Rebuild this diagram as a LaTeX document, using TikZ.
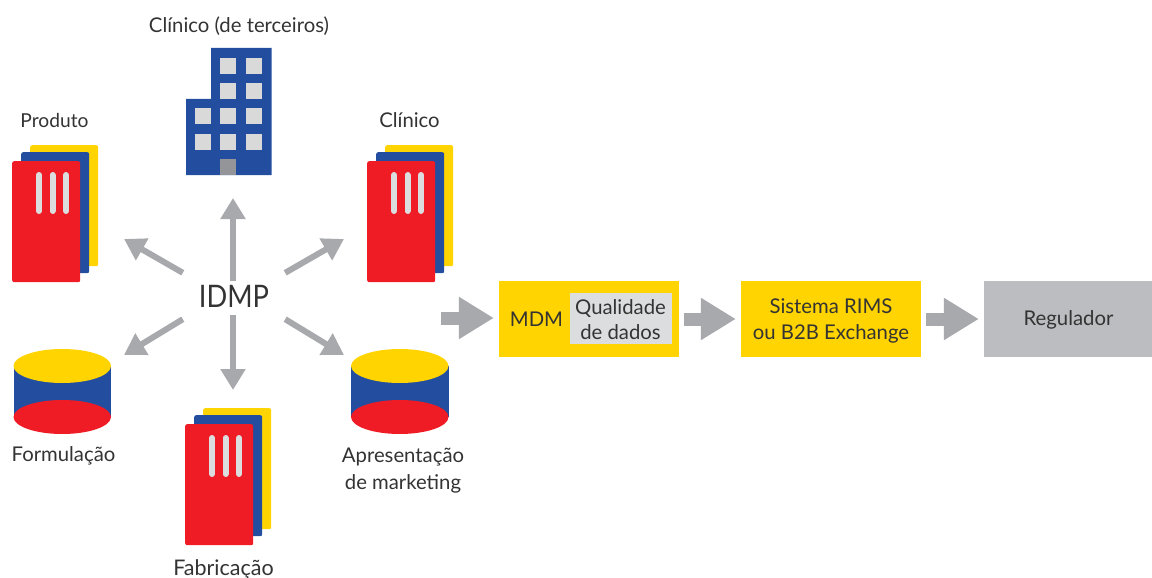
\documentclass[tikz,border=0pt]{standalone}
\usepackage{fontspec}
\setmainfont{Lato}
\newfontfamily\idmpfont[FakeStretch=0.88]{Lato}
\usetikzlibrary{arrows.meta}
\definecolor{cyel}{HTML}{FFD400}
\definecolor{cblu}{HTML}{234EA0}
\definecolor{cred}{HTML}{EF1C25}
\definecolor{cgry}{HTML}{A7A9AC}
\definecolor{cbox}{HTML}{BCBDC0}
\definecolor{cwin}{HTML}{D9D9D9}
\definecolor{cdoor}{HTML}{939598}
\definecolor{cinn}{HTML}{DCDDDE}
\definecolor{ctxt}{HTML}{333333}
\tikzset{
  lbl/.style={inner sep=0pt,text=ctxt,font=\fontsize{20.3}{27}\selectfont,align=center},
  sheet/.style={inner sep=0pt,minimum width=68pt,minimum height=121pt,rounded corners=2pt},
  stripe/.style={line width=6pt,line cap=round,draw=cinn},
  win/.style={fill=cwin,inner sep=0pt,minimum size=16pt},
  thinarrow/.style={draw=cgry,line width=6pt,-{Triangle[length=21pt,width=24pt]}},
  bigarrow/.style={draw=cgry,line width=13pt,-{Triangle[length=35pt,width=40pt]}},
  flowbox/.style={inner sep=0pt,minimum height=76pt}
}
\newcommand{\cardicon}[4]{% name, x, y of red top-left
  \node[sheet,fill=cyel,anchor=north west] (#1y) at (#2+18,#3-16) {};
  \node[sheet,fill=cblu,anchor=north west] (#1b) at (#2+9,#3-9) {};
  \node[sheet,fill=cred,anchor=north west] (#1r) at (#2,#3) {};
  \foreach \dx in {27,40.5,54}{\draw[stripe] (#2+\dx,#3+14) -- (#2+\dx,#3+50);}
}
\newcommand{\cylicon}[3]{% x left, width
  \fill[cblu] (#1,366) rectangle (#1+#2,417);
  \fill[cyel] (#1+#2/2,366) ellipse ({#2/2} and 17);
  \fill[cred] (#1+#2/2,417) ellipse ({#2/2} and 17);
}
\begin{document}
\begin{tikzpicture}[x=1pt,y=-1pt]
\useasboundingbox (0,0) rectangle (1152,578);
% labels
\node[lbl] (lterc) at (239,26) {Clínico (de terceiros)};
\node[lbl,font=\fontsize{19.2}{27}\selectfont] (lprod) at (54.5,120.5) {Produto};
\node[lbl] (lclin) at (409.5,120.5) {Clínico};
\node[lbl] (lform) at (63.5,455.5) {Formulação};
\node[lbl] (lapre) at (403,470.5) {Apresentação\\de marketing};
\node[lbl,font=\fontsize{21.5}{27}\selectfont] (lfabr) at (223.5,569.5) {Fabricação};
% building
\fill[cblu] (186,175) -- (186,99) -- (211,99) -- (211,48) -- (271.5,48) -- (271.5,175) -- cycle;
\foreach \x/\y/\n in {220/58/a,246/58/b,220/83/c,246/83/d,195/108/e,220/108/f,246/108/g,195/134/h,220/134/i,246/134/j}{
  \node[win,anchor=north west] (w\n) at (\x,\y) {};
}
\node[inner sep=0pt,minimum width=16pt,minimum height=16pt,fill=cdoor,anchor=north west] (door) at (220,159) {};
% cards
\cardicon{prod}{12}{161}{}
\cardicon{clin}{367}{161}{}
\cardicon{fabr}{185}{424}{}
% cylinders
\cylicon{13.5}{97.5}{}
\cylicon{351}{97.5}{}
% IDMP and arrows
\node[inner sep=0pt,minimum width=102pt,minimum height=46pt,text=ctxt,font=\idmpfont\fontsize{31}{31}\selectfont] (idmp) at (234,296) {IDMP};
\coordinate (tup) at (233,198);
\coordinate (tul) at (124,239);
\coordinate (tur) at (344,239);
\coordinate (tdl) at (124,355);
\coordinate (tdn) at (233,390);
\coordinate (tdr) at (344,355);
\draw[thinarrow] ([xshift=-1pt,yshift=-8pt]idmp.north) -- (tup);
\draw[thinarrow] (idmp.north west) -- (tul);
\draw[thinarrow] (idmp.north east) -- (tur);
\draw[thinarrow] (idmp.south west) -- (tdl);
\draw[thinarrow] ([xshift=-1pt,yshift=4pt]idmp.south) -- (tdn);
\draw[thinarrow] (idmp.south east) -- (tdr);
% flow boxes
\node[flowbox,fill=cyel,minimum width=180pt] (mdm) at (589,319) {};
\node[inner sep=0pt,fill=cinn,minimum width=102pt,minimum height=51pt] (qualbg) at (621,318.5) {};
\node[lbl,font=\fontsize{20.3}{25}\selectfont] (qual) at (620.5,319.5) {Qualidade\\de dados};
\node[lbl] (mdmt) at (536.5,319) {MDM};
\node[flowbox,fill=cyel,minimum width=180pt] (rims) at (831,319) {};
\node[lbl,font=\fontsize{20.3}{26}\selectfont] (rimst) at (831,321) {Sistema RIMS\\ou B2B Exchange};
\node[flowbox,fill=cbox,minimum width=168pt] (reg) at (1068,319) {};
\node[lbl] (regt) at (1068.5,320) {Regulador};
\coordinate (sin) at (441,318);
\draw[bigarrow,shorten >=5pt] (sin) -- (sin-|mdm.west);
\draw[bigarrow,shorten >=5pt,shorten <=5pt] (mdm.east) -- (rims.west);
\draw[bigarrow,shorten >=5pt,shorten <=5pt] (rims.east) -- (reg.west);
\end{tikzpicture}
\end{document}
